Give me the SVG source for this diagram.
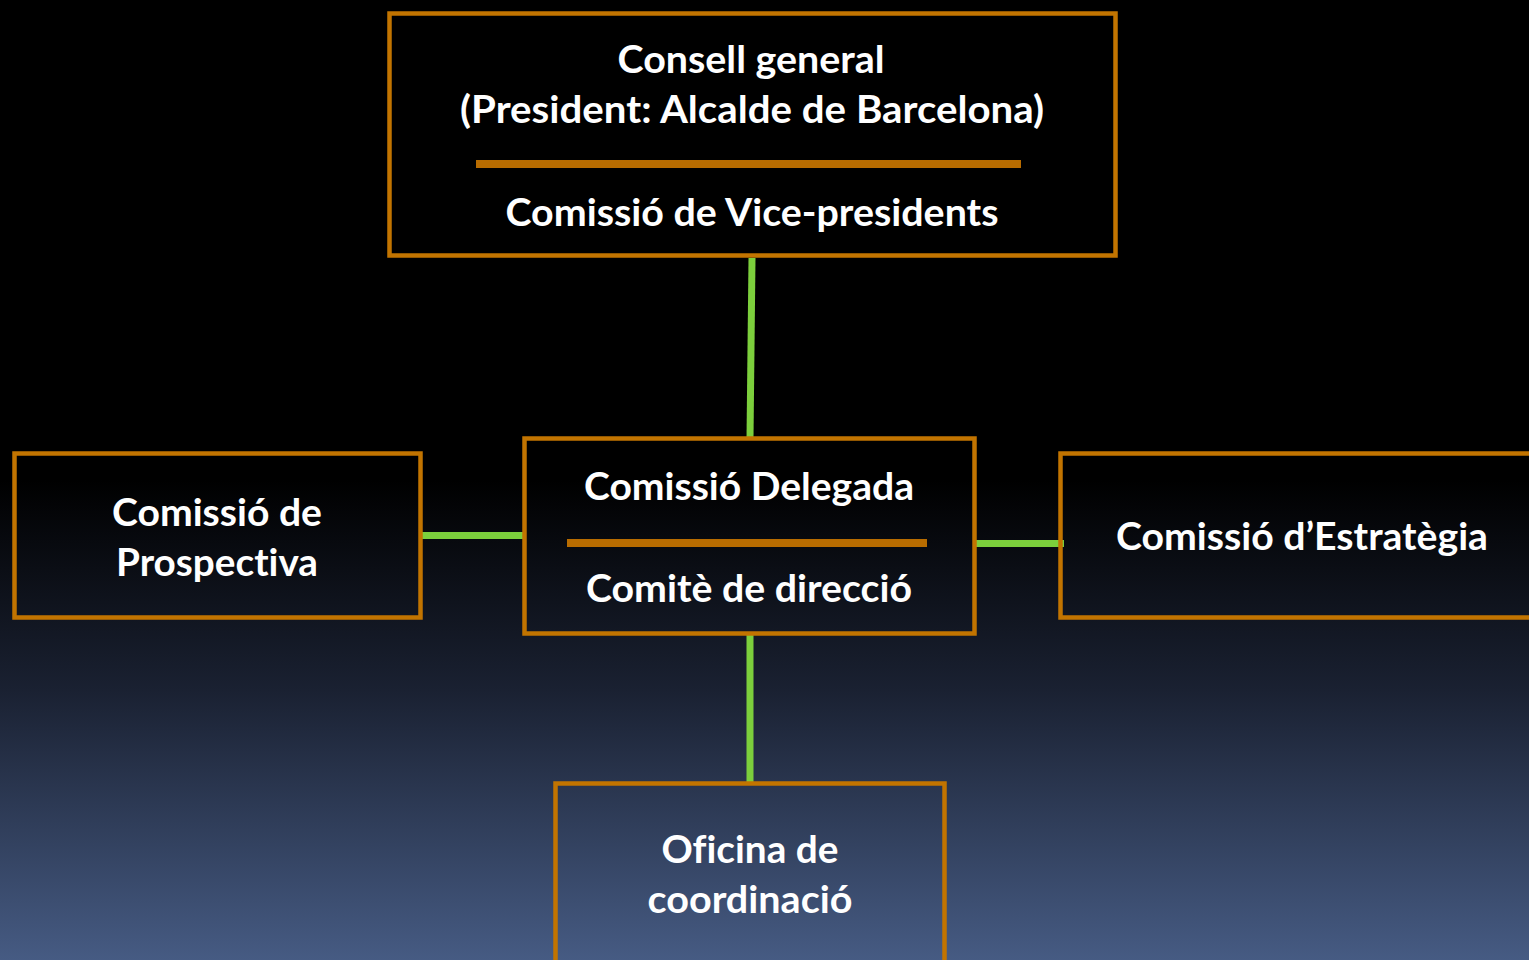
<svg xmlns="http://www.w3.org/2000/svg" width="1529" height="960" viewBox="0 0 1529 960">
<defs>
<linearGradient id="bg" x1="0" y1="0" x2="0" y2="1">
<stop offset="0" stop-color="#000000"/>
<stop offset="0.5" stop-color="#000000"/>
<stop offset="0.72" stop-color="#1a2132"/>
<stop offset="1" stop-color="#465b83"/>
</linearGradient>
<style>
.box{fill:none;stroke:#c27400;stroke-width:4.5}
.sep{stroke:#b86c00;stroke-width:8}
.con{stroke:#7ccf3c;stroke-width:7;fill:none}
.t{fill:#ffffff;font-family:Lato,"Open Sans","Liberation Sans",sans-serif;font-weight:700;font-size:38px;text-anchor:middle;font-variant-ligatures:none;font-feature-settings:"liga" 0,"dlig" 0}
</style>
</defs>
<rect x="0" y="0" width="1529" height="960" fill="url(#bg)"/>
<g id="connectors">
<line class="con" x1="752" y1="258" x2="750" y2="438"/>
<line class="con" x1="420" y1="535.5" x2="525" y2="535.5"/>
<line class="con" x1="975" y1="543.5" x2="1064" y2="543.5"/>
<line class="con" x1="750" y1="633" x2="750" y2="783"/>
</g>
<g id="consell">
<rect class="box" x="389.5" y="13.5" width="726" height="242"/>
<line class="sep" x1="476" y1="164" x2="1021" y2="164"/>
<text class="t" x="751" y="73" textLength="267" lengthAdjust="spacingAndGlyphs">Consell general</text>
<text class="t" x="752" y="123" textLength="584" lengthAdjust="spacingAndGlyphs">(President: Alcalde de Barcelona)</text>
<text class="t" x="752" y="226" textLength="493" lengthAdjust="spacingAndGlyphs">Comissió de Vice-presidents</text>
</g>
<g id="delegada">
<rect class="box" x="524.5" y="438.5" width="450" height="195"/>
<line class="sep" x1="567" y1="543" x2="927" y2="543"/>
<text class="t" x="749" y="500" textLength="330" lengthAdjust="spacingAndGlyphs">Comissió Delegada</text>
<text class="t" x="749" y="602" textLength="326" lengthAdjust="spacingAndGlyphs">Comitè de direcció</text>
</g>
<g id="prospectiva">
<rect class="box" x="14.5" y="453.5" width="406" height="164"/>
<text class="t" x="217" y="526" textLength="210" lengthAdjust="spacingAndGlyphs">Comissió de</text>
<text class="t" x="217" y="576" textLength="202" lengthAdjust="spacingAndGlyphs">Prospectiva</text>
</g>
<g id="estrategia">
<rect class="box" x="1060.5" y="453.5" width="480" height="164"/>
<text class="t" x="1302" y="550" textLength="372" lengthAdjust="spacingAndGlyphs">Comissió d’Estratègia</text>
</g>
<g id="oficina">
<rect class="box" x="555.5" y="783.5" width="389" height="190"/>
<text class="t" x="750" y="863" textLength="177" lengthAdjust="spacingAndGlyphs">Oficina de</text>
<text class="t" x="750" y="913" textLength="205" lengthAdjust="spacingAndGlyphs">coordinació</text>
</g>
</svg>
